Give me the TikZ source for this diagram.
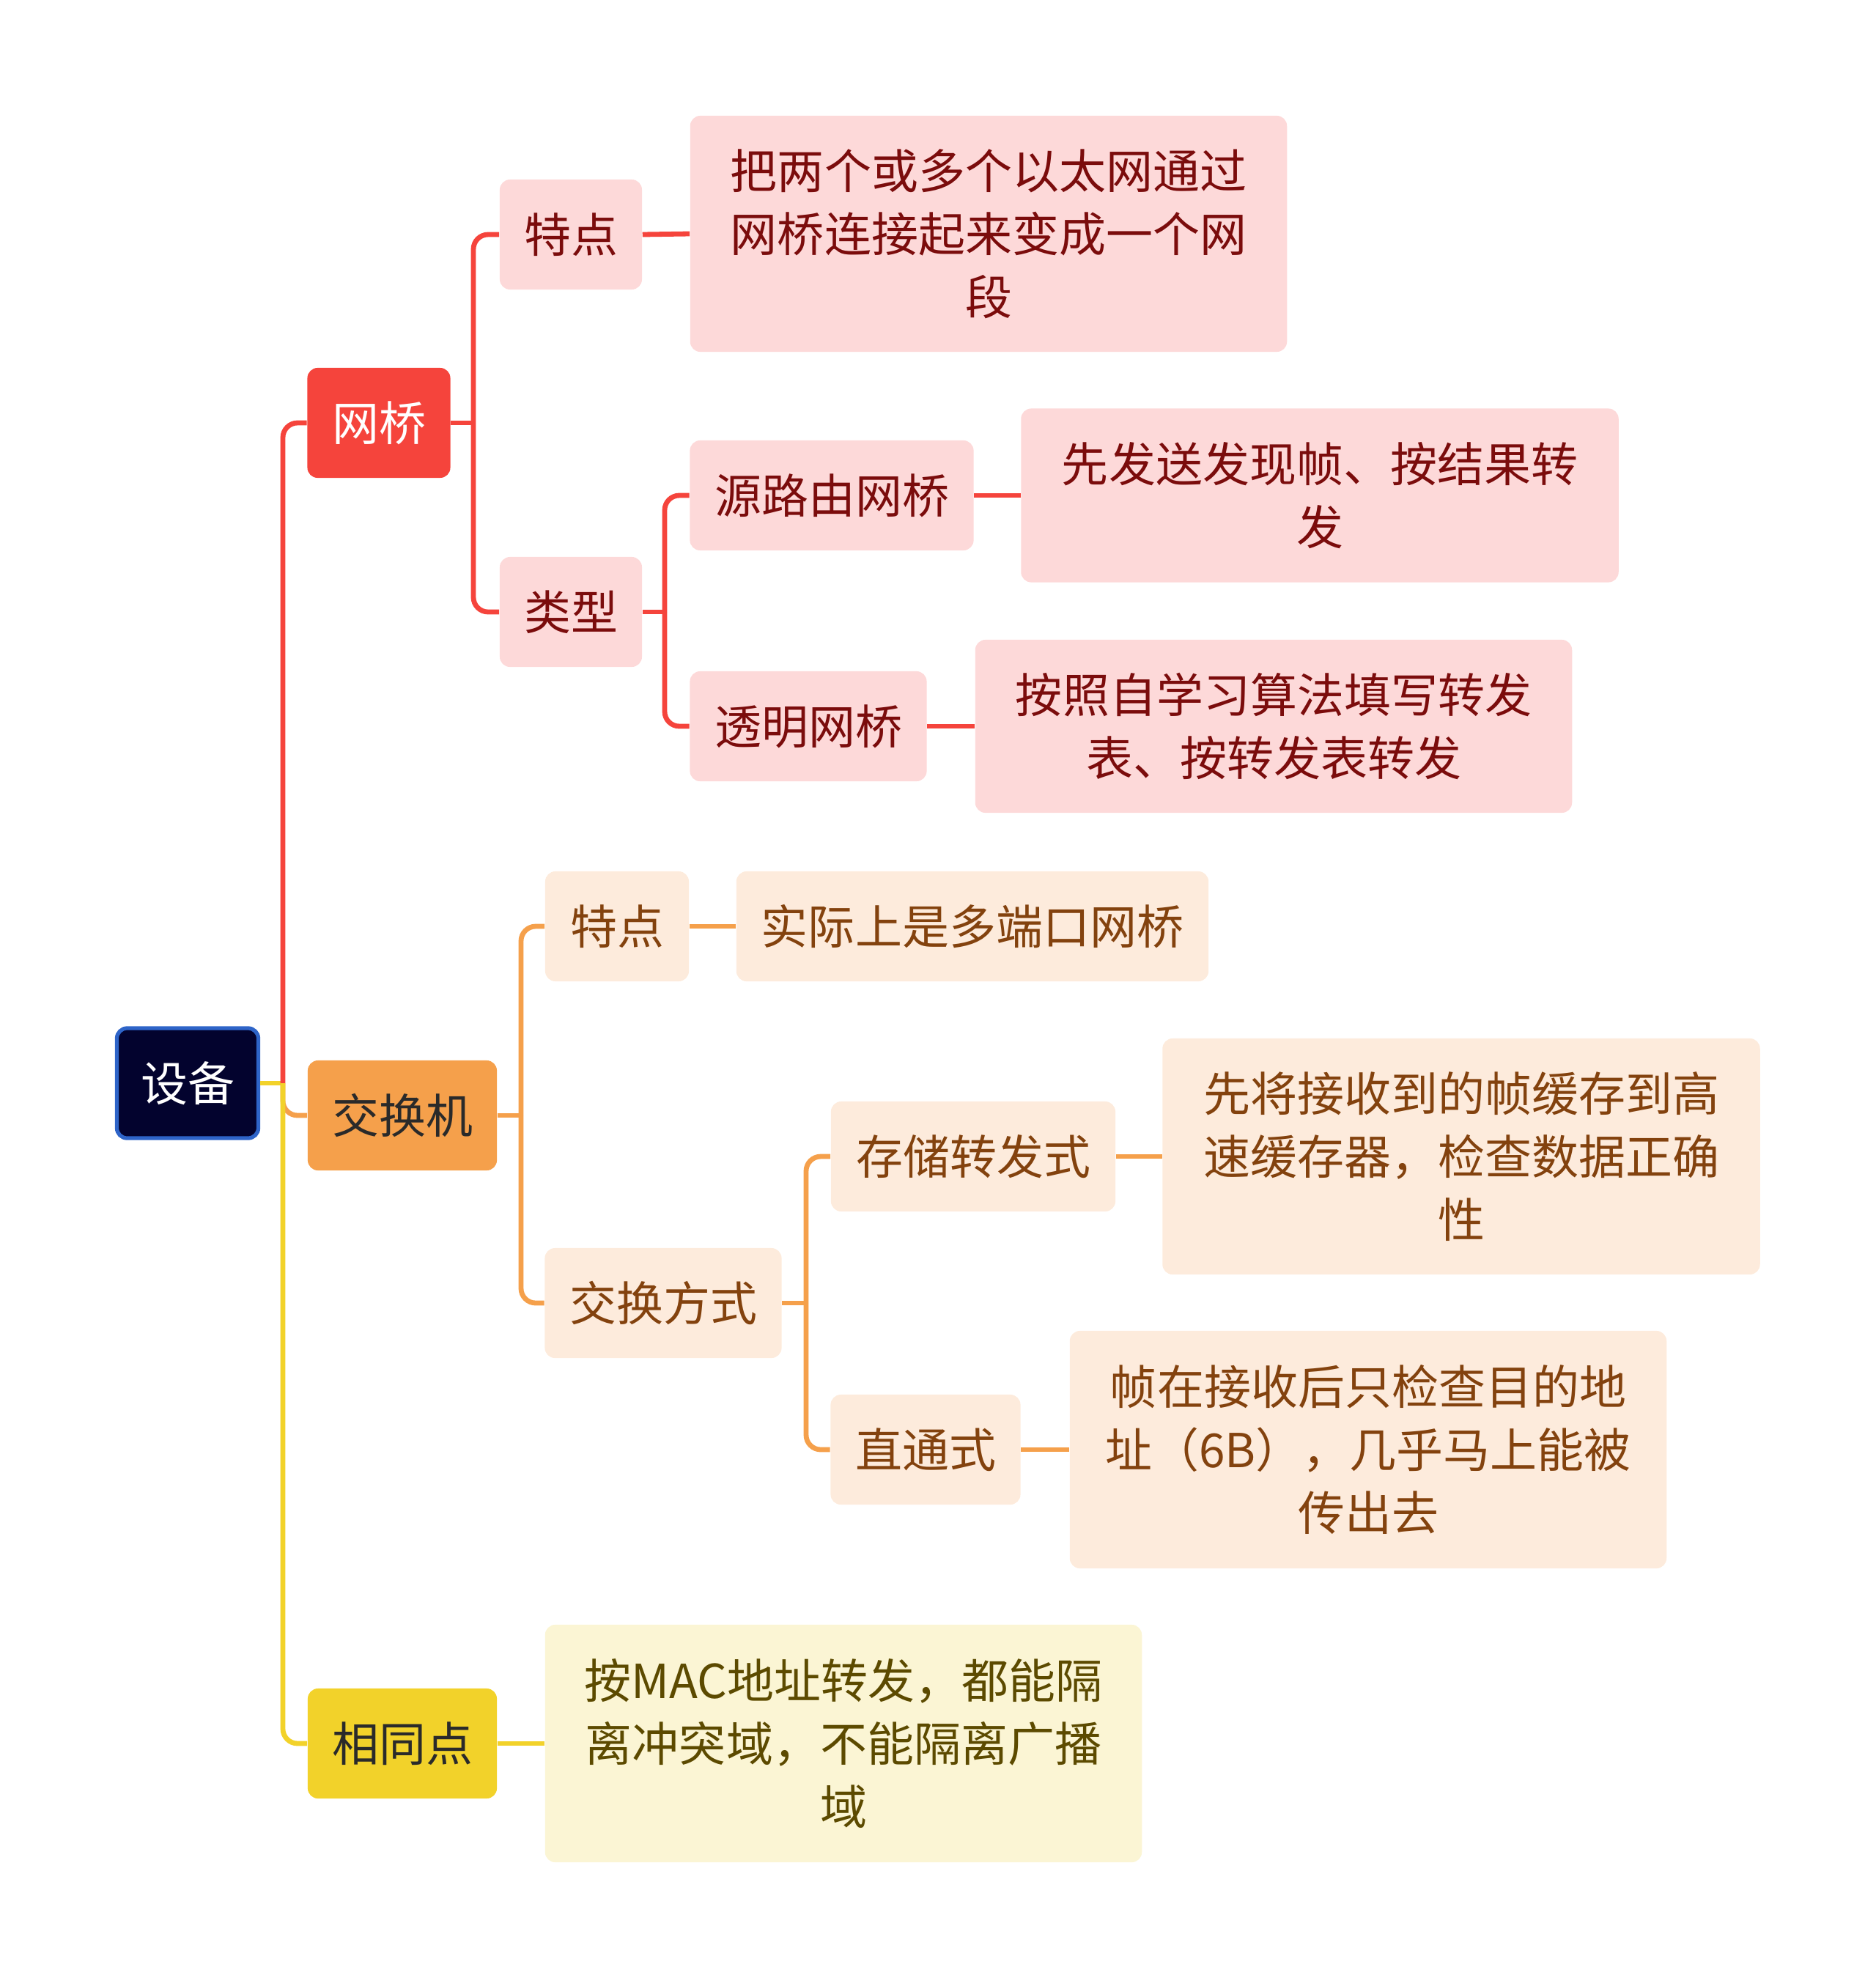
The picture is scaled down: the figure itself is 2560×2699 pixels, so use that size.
\documentclass[tikz,border=0pt]{standalone}
\usepackage{fontspec}
\setmainfont{Noto Sans CJK SC}
\usepackage{tikz}

\definecolor{rootfill}{HTML}{03032E}
\definecolor{rootline}{HTML}{2E64C8}
\definecolor{bridgered}{HTML}{F5443C}
\definecolor{bridgelight}{HTML}{FDD9D9}
\definecolor{bridgetext}{HTML}{7B0C0C}
\definecolor{switchorange}{HTML}{F5A04B}
\definecolor{switchlight}{HTML}{FDEBDC}
\definecolor{switchtext}{HTML}{83420E}
\definecolor{sameyellow}{HTML}{F2D22A}
\definecolor{samelight}{HTML}{FBF5D4}
\definecolor{sametext}{HTML}{5C4A00}
\definecolor{darktext}{HTML}{2A2A2A}

\begin{document}
\begin{tikzpicture}[x=0.01cm, y=-0.01cm,
    every node/.style={font=\fontsize{18.2}{24.5}\selectfont, inner sep=0pt, rounded corners=0.14cm},
    box/.style={minimum height=1.5cm, align=center},
    bbox/.style={box, fill=bridgelight, text=bridgetext},
    sbox/.style={box, fill=switchlight, text=switchtext},
    ybox/.style={box, fill=samelight, text=sametext},
    link/.style={line width=0.068cm, rounded corners=0.2cm},
    rline/.style={link, draw=bridgered},
    oline/.style={link, draw=switchorange},
    yline/.style={link, draw=sameyellow}]
  \useasboundingbox (0,0) rectangle (2560,2699);

  % root and main branches
  \node[box, fill=rootfill, draw=rootline, line width=1.5pt, text=white, minimum width=1.93cm] (root) at (256,1478) {设备};
  \node[box, fill=bridgered, text=white, minimum width=1.95cm] (wq) at (517,577) {网桥};
  \node[box, fill=switchorange, text=darktext, minimum width=2.58cm] (jhj) at (549,1522) {交换机};
  \node[box, fill=sameyellow, text=darktext, minimum width=2.58cm] (xtd) at (549,2379) {相同点};

  % bridge
  \node[bbox, minimum width=1.94cm] (td1) at (779,320) {特点};
  \node[bbox, minimum width=1.94cm] (lx) at (779,835) {类型};
  \node[bbox, minimum width=8.14cm, minimum height=3.22cm] (d1) at (1349,319) {把两个或多个以太网通过\\网桥连接起来变成一个网\\段};
  \node[bbox, minimum width=3.87cm] (ly) at (1135,676) {源路由网桥};
  \node[bbox, minimum width=8.15cm, minimum height=2.37cm] (d2) at (1801,676) {先发送发现帧、按结果转\\发};
  \node[bbox, minimum width=3.23cm] (tm) at (1103,991) {透明网桥};
  \node[bbox, minimum width=8.14cm, minimum height=2.36cm] (d3) at (1738,991) {按照自学习算法填写转发\\表、按转发表转发};

  % switch
  \node[sbox, minimum width=1.96cm] (td2) at (842,1264) {特点};
  \node[sbox, minimum width=6.44cm] (d4) at (1327,1264) {实际上是多端口网桥};
  \node[sbox, minimum width=3.23cm] (jf) at (905,1778) {交换方式};
  \node[sbox, minimum width=3.88cm] (cc) at (1328,1578) {存储转发式};
  \node[sbox, minimum width=8.15cm, minimum height=3.22cm] (d5) at (1994,1578) {先将接收到的帧缓存到高\\速缓存器，检查数据正确\\性};
  \node[sbox, minimum width=2.59cm] (zt) at (1263,1978) {直通式};
  \node[sbox, minimum width=8.14cm, minimum height=3.24cm] (d6) at (1867,1978) {帧在接收后只检查目的地\\址（6B），几乎马上能被\\传出去};

  % common points
  \node[ybox, minimum width=8.14cm, minimum height=3.24cm] (d7) at (1151,2379) {按MAC地址转发，都能隔\\离冲突域，不能隔离广播\\域};

  % trunk
  \coordinate (t0) at (386,1478);
  \draw[yline] (root.east) -- (t0);
  \draw[rline] (t0) |- (wq.west);
  \draw[oline] (t0) |- (jhj.west);
  \draw[yline] (t0) |- (xtd.west);

  % bridge links
  \coordinate (b1) at (646,577);
  \coordinate (b2) at (907,835);
  \draw[rline] (wq.east) -- (b1);
  \draw[rline] (b1) |- (td1.west);
  \draw[rline] (b1) |- (lx.west);
  \draw[rline] (td1.east) -- (d1.west);
  \draw[rline] (lx.east) -- (b2);
  \draw[rline] (b2) |- (ly.west);
  \draw[rline] (b2) |- (tm.west);
  \draw[rline] (ly.east) -- (d2.west);
  \draw[rline] (tm.east) -- (d3.west);

  % switch links
  \coordinate (s1) at (711,1522);
  \coordinate (s2) at (1100,1778);
  \draw[oline] (jhj.east) -- (s1);
  \draw[oline] (s1) |- (td2.west);
  \draw[oline] (s1) |- (jf.west);
  \draw[oline] (td2.east) -- (d4.west);
  \draw[oline] (jf.east) -- (s2);
  \draw[oline] (s2) |- (cc.west);
  \draw[oline] (s2) |- (zt.west);
  \draw[oline] (cc.east) -- (d5.west);
  \draw[oline] (zt.east) -- (d6.west);

  \draw[yline] (xtd.east) -- (d7.west);
\end{tikzpicture}
\end{document}
